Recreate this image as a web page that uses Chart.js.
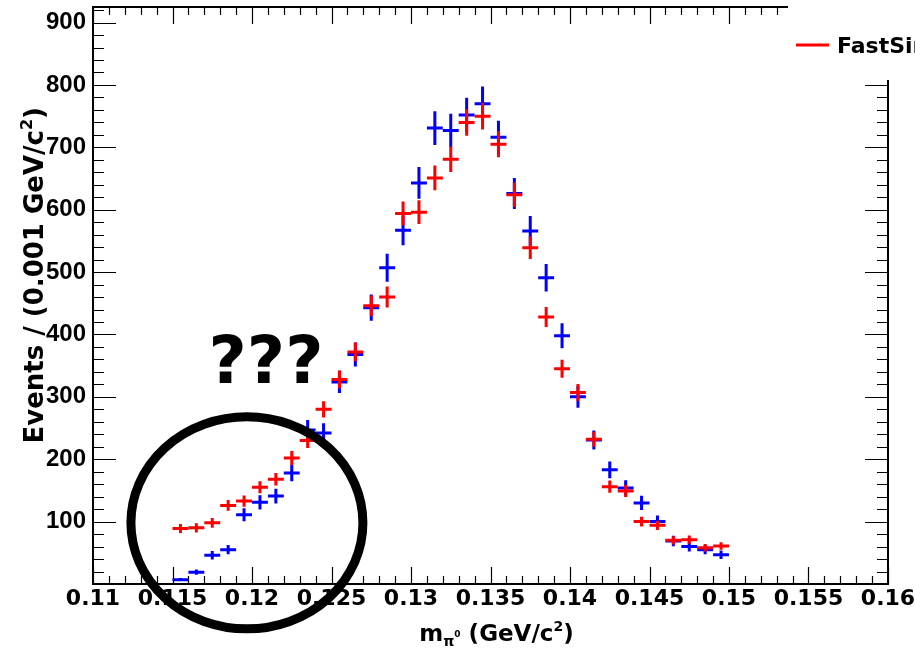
<!DOCTYPE html>
<html>
<head>
<meta charset="utf-8">
<script src="https://cdn.jsdelivr.net/npm/chart.js@4.4.1/dist/chart.umd.min.js"></script>
<style>
  html, body { margin: 0; padding: 0; background: #fff; }
  #wrap { width: 915px; height: 651px; position: relative; }
</style>
</head>
<body>
<div id="wrap"><canvas id="massChart"></canvas></div>
<script>
// bin centres (GeV/c^2), bin width 0.001
const binCenters = [
    0.1155, 0.1165, 0.1175, 0.1185, 0.1195, 0.1205, 0.1215, 0.1225, 0.1235, 0.1245,
    0.1255, 0.1265, 0.1275, 0.1285, 0.1295, 0.1305, 0.1315, 0.1325, 0.1335, 0.1345,
    0.1355, 0.1365, 0.1375, 0.1385, 0.1395, 0.1405, 0.1415, 0.1425, 0.1435, 0.1445,
    0.1455, 0.1465, 0.1475, 0.1485, 0.1495
];
const binWidth = 0.001;

// blue points
const fullSimCounts = [
    7, 19, 46, 55, 111, 131, 141, 178, 247, 242,
    324, 368, 443, 507, 567, 643, 731, 727, 752, 770,
    716, 626, 566, 491, 398, 300, 231, 183, 154, 130,
    100, 69, 60, 55, 47
];

// red points (FastSim)
const fastSimCounts = [
    89, 90, 98, 126, 133, 155, 168, 202, 230, 280,
    328, 372, 446, 460, 594, 596, 651, 681, 740, 750,
    705, 624, 539, 428, 345, 307, 232, 156, 149, 100,
    94, 70, 71, 58, 61
];

// axis ranges / ticks
const xRange = [0.11, 0.16];
const yRange = [0, 925];
const xMajorStep = 0.005;
const xMinorStep = 0.001;
const yMajorStep = 100;
const yMinorStep = 20;

// FastSim errors look smaller than plain Poisson
const fastSimErrScale = 0.78;

const toPoints = (counts, errScale) => counts.map((v, i) => ({
    x: binCenters[i],
    y: v,
    err: Math.sqrt(v) * errScale
}));

// draw text made of pieces (sub/superscripts)
function drawRich(ctx, parts, x, y, align) {
    let total = 0;
    parts.forEach(p => {
        ctx.font = `bold ${p.size}px "DejaVu Sans"`;
        p.w = ctx.measureText(p.t).width;
        total += p.w;
    });
    let cx = align === 'center' ? x - total / 2 : (align === 'right' ? x - total : x);
    ctx.textAlign = 'left';
    ctx.textBaseline = 'alphabetic';
    parts.forEach(p => {
        ctx.font = `bold ${p.size}px "DejaVu Sans"`;
        ctx.fillText(p.t, cx, y + (p.dy || 0));
        cx += p.w;
    });
}

const rootStyle = {
    id: 'rootStyle',
    afterDatasetsDraw(chart) {
        const ctx = chart.ctx;
        const xs = chart.scales.x, ys = chart.scales.y;
        ctx.save();
        ctx.lineWidth = 3;
        chart.data.datasets.forEach(ds => {
            ctx.strokeStyle = ds.borderColor;
            ds.data.forEach(p => {
                const px = xs.getPixelForValue(p.x);
                const py = ys.getPixelForValue(p.y);
                const x0 = xs.getPixelForValue(p.x - binWidth / 2);
                const x1 = xs.getPixelForValue(p.x + binWidth / 2);
                const y0 = ys.getPixelForValue(p.y - p.err);
                const y1 = ys.getPixelForValue(p.y + p.err);
                ctx.beginPath();
                ctx.moveTo(x0, py); ctx.lineTo(x1, py);
                ctx.moveTo(px, y0); ctx.lineTo(px, y1);
                ctx.stroke();
            });
        });
        ctx.restore();
    },
    afterDraw(chart) {
        const ctx = chart.ctx;
        const a = chart.chartArea;
        const xs = chart.scales.x, ys = chart.scales.y;
        ctx.save();

        // frame
        ctx.strokeStyle = '#000';
        ctx.lineWidth = 2;
        ctx.strokeRect(a.left, a.top, a.right - a.left, a.bottom - a.top);

        // inward ticks
        ctx.lineWidth = 1.2;
        ctx.beginPath();
        const nx = Math.round((xRange[1] - xRange[0]) / xMinorStep);
        for (let i = 0; i <= nx; i++) {
            const v = xRange[0] + i * xMinorStep;
            const px = Math.round(xs.getPixelForValue(v)) + 0.5;
            const len = i % Math.round(xMajorStep / xMinorStep) === 0 ? 17 : 8;
            ctx.moveTo(px, a.bottom); ctx.lineTo(px, a.bottom - len);
            ctx.moveTo(px, a.top); ctx.lineTo(px, a.top + len);
        }
        for (let v = yRange[0]; v <= yRange[1]; v += yMinorStep) {
            const py = Math.round(ys.getPixelForValue(v)) + 0.5;
            const len = v % yMajorStep === 0 ? 23 : 11;
            ctx.moveTo(a.left, py); ctx.lineTo(a.left + len, py);
            ctx.moveTo(a.right, py); ctx.lineTo(a.right - len, py);
        }
        ctx.stroke();

        // legend box (cut by the canvas edge)
        ctx.fillStyle = '#fff';
        ctx.fillRect(788, 0, 915 - 788, 80);
        ctx.strokeStyle = '#ff0000';
        ctx.lineWidth = 3;
        ctx.beginPath();
        ctx.moveTo(796, 45); ctx.lineTo(829, 45);
        ctx.stroke();
        ctx.fillStyle = '#000';
        drawRich(ctx, [{ t: 'FastSim', size: 22 }], 837, 53, 'left');

        // axis titles
        drawRich(ctx, [
            { t: 'm', size: 23 },
            { t: 'π', size: 14, dy: 5 },
            { t: '0', size: 9, dy: -4 },
            { t: ' (GeV/c', size: 23 },
            { t: '2', size: 14, dy: -10 },
            { t: ')', size: 23 }
        ], (a.left + a.right) / 2 + 6, 641, 'center');

        ctx.save();
        ctx.translate(43, 107);
        ctx.rotate(-Math.PI / 2);
        drawRich(ctx, [
            { t: 'Events / (0.001 GeV/c', size: 26 },
            { t: '2', size: 16, dy: -11 },
            { t: ')', size: 26 }
        ], 0, 0, 'right');
        ctx.restore();

        // annotations
        ctx.fillStyle = '#000';
        drawRich(ctx, [{ t: '???', size: 66 }], 266, 383, 'center');

        const cx = xs.getPixelForValue(0.11968);
        const cy = ys.getPixelForValue(98);
        ctx.strokeStyle = '#000';
        ctx.lineWidth = 9;
        ctx.beginPath();
        ctx.ellipse(cx, cy, 116, 106, 0, 0, Math.PI * 2);
        ctx.stroke();

        ctx.restore();
    }
};

new Chart(document.getElementById('massChart').getContext('2d'), {
    type: 'scatter',
    data: {
        datasets: [{
            label: 'FullSim',
            data: toPoints(fullSimCounts, 1),
            borderColor: '#0000ff',
            backgroundColor: '#0000ff',
            pointRadius: 0
        }, {
            label: 'FastSim',
            data: toPoints(fastSimCounts, fastSimErrScale),
            borderColor: '#ff0000',
            backgroundColor: '#ff0000',
            pointRadius: 0
        }]
    },
    options: {
        responsive: true,
        maintainAspectRatio: false,
        animation: false,
        events: [],
        layout: {
            padding: { top: 7, right: 27, left: 0, bottom: 0 }
        },
        plugins: {
            legend: { display: false },
            tooltip: { enabled: false }
        },
        scales: {
            x: {
                type: 'linear',
                min: xRange[0],
                max: xRange[1],
                grid: { display: false, drawTicks: false },
                border: { display: false },
                ticks: {
                    stepSize: xMajorStep,
                    includeBounds: false,
                    autoSkip: false,
                    maxRotation: 0,
                    padding: 2,
                    color: '#000',
                    font: { family: 'DejaVu Sans', weight: 'bold', size: 22 },
                    callback: value => Number(value.toFixed(3)).toString()
                },
                afterFit(scale) {
                    scale.height = 67;
                    scale.paddingLeft = 0;
                    scale.paddingRight = 0;
                }
            },
            y: {
                type: 'linear',
                min: yRange[0],
                max: yRange[1],
                grid: { display: false, drawTicks: false },
                border: { display: false },
                ticks: {
                    stepSize: yMajorStep,
                    includeBounds: false,
                    padding: 7,
                    color: '#000',
                    font: { family: 'Liberation Sans', weight: 'bold', size: 24 },
                    callback: value => value === 0 ? '' : value
                },
                afterFit(scale) {
                    scale.width = 93;
                    scale.paddingTop = 0;
                    scale.paddingBottom = 0;
                }
            }
        }
    },
    plugins: [rootStyle]
});
</script>
</body>
</html>
